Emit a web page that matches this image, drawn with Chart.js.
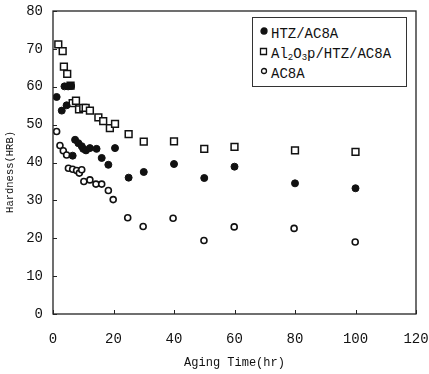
<!DOCTYPE html>
<html>
<head>
<meta charset="utf-8">
<script src="https://cdn.jsdelivr.net/npm/chart.js@4"></script>
<style>
  body { margin: 0; background: #fff; }
  #wrap { position: relative; width: 429px; height: 374px; }
  #legend {
    position: absolute; left: 252px; top: 17px; width: 155px; height: 70px;
    border: 1px solid #333; background: #fff; box-sizing: border-box;
    font-family: "Liberation Mono", monospace; font-size: 14px; color: #111;
    padding-top: 6px;
  }
  #legend div { height: 20px; line-height: 20px; position: relative; padding-left: 18px; }
  #legend sub { font-size: 9px; vertical-align: -2px; line-height: 0; }
  #legend canvas { position: absolute; left: 5px; top: 2px; }
</style>
</head>
<body>
<div id="wrap">
  <canvas id="chart" width="429" height="374"></canvas>
  <div id="legend"></div>
</div>
<script>
// Aging time (hr) and hardness (HRB) for each material
const timeHTZ = [1.2, 2.9, 3.8, 5, 6, 4.5, 6.5, 7.3, 8.4, 9.5, 10, 10.9, 12.2, 14.4, 16.1, 18.3, 20.5, 25, 30, 40, 50, 60, 80, 100];
const hardHTZ = [57.3, 53.7, 60.1, 60.1, 60.2, 55.1, 41.8, 46, 45.1, 44.3, 43.6, 43.2, 43.8, 43.6, 41.2, 39.4, 43.8, 36, 37.5, 39.6, 35.9, 38.9, 34.5, 33.2];

const timeAl = [1.75, 3.2, 3.6, 4.7, 5.8, 6.5, 7.6, 8.6, 10, 10.8, 12.2, 15, 16.6, 18.8, 20.5, 25, 30, 40, 50, 60, 80, 100];
const hardAl = [71.2, 69.4, 65.3, 63.4, 60.3, 55.7, 56.3, 54, 54.4, 54.4, 53.7, 51.9, 50.9, 49.1, 50.2, 47.5, 45.5, 45.6, 43.6, 44.1, 43.2, 42.8];

const timeAC = [1.2, 2.3, 3.4, 4.5, 5.1, 6.5, 7.8, 8.7, 9.5, 10.2, 12.2, 14.2, 16.1, 18.3, 19.9, 24.7, 29.8, 39.7, 49.9, 59.9, 79.7, 99.9];
const hardAC = [48.2, 44.5, 43.1, 42, 38.5, 38.2, 37.9, 37.2, 38.1, 35, 35.4, 34.3, 34.3, 32.6, 30.2, 25.4, 23.1, 25.3, 19.4, 23, 22.6, 19];

const seriesNames = ["HTZ/AC8A", "Al<sub>2</sub>O<sub>3</sub>p/HTZ/AC8A", "AC8A"];
const xTicks = [0, 20, 40, 60, 80, 100, 120];
const yTicks = [0, 10, 20, 30, 40, 50, 60, 70, 80];

const toPoints = (xs, ys) => xs.map((x, i) => ({ x: x, y: ys[i] }));

const styles = [
  { pointStyle: "circle", pointRadius: 3.5, backgroundColor: "#111", borderColor: "#111", borderWidth: 1 },
  { pointStyle: "rect", pointRadius: 4.8, backgroundColor: "#fff", borderColor: "#111", borderWidth: 1.5 },
  { pointStyle: "circle", pointRadius: 3, backgroundColor: "#fff", borderColor: "#111", borderWidth: 1.6 },
];

// frame and inward tick marks
const framePlugin = {
  id: "frame",
  afterDraw(chart) {
    const { ctx, chartArea: a, scales } = chart;
    ctx.save();
    ctx.strokeStyle = "#222";
    ctx.lineWidth = 1.3;
    ctx.strokeRect(a.left, a.top, a.right - a.left, a.bottom - a.top);
    ctx.lineWidth = 1;
    ctx.beginPath();
    xTicks.forEach(v => {
      const px = Math.round(scales.x.getPixelForValue(v)) + 0.5;
      ctx.moveTo(px, a.bottom);
      ctx.lineTo(px, a.bottom - 4);
    });
    yTicks.forEach(v => {
      const py = Math.round(scales.y.getPixelForValue(v)) + 0.5;
      ctx.moveTo(a.left, py);
      ctx.lineTo(a.left + 4, py);
    });
    ctx.stroke();
    ctx.restore();
  }
};

const monoTick = { family: "'Liberation Mono', monospace", size: 14 };

new Chart(document.getElementById("chart").getContext("2d"), {
  type: "scatter",
  data: {
    datasets: [
      Object.assign({ label: "HTZ/AC8A", data: toPoints(timeHTZ, hardHTZ) }, styles[0]),
      Object.assign({ label: "Al2O3p/HTZ/AC8A", data: toPoints(timeAl, hardAl) }, styles[1]),
      Object.assign({ label: "AC8A", data: toPoints(timeAC, hardAC) }, styles[2]),
    ],
  },
  options: {
    responsive: false,
    animation: false,
    layout: { padding: { top: 11, right: 13, left: 0, bottom: 0 } },
    plugins: { legend: { display: false }, tooltip: { enabled: false } },
    scales: {
      x: {
        type: "linear", min: 0, max: 120,
        afterBuildTicks: s => { s.ticks = xTicks.map(v => ({ value: v })); },
        afterFit: s => { s.height = 60; s.paddingLeft = 0; s.paddingRight = 0; },
        grid: { display: false, drawTicks: false },
        border: { display: false },
        ticks: { color: "#111", font: monoTick, padding: 17, maxRotation: 0 },
        title: { display: true, text: "Aging Time(hr)", color: "#111",
                 font: { family: "'Liberation Mono', monospace", size: 12 }, padding: { top: 3 } },
      },
      y: {
        type: "linear", min: 0, max: 80,
        afterBuildTicks: s => { s.ticks = yTicks.map(v => ({ value: v })); },
        afterFit: s => { s.width = 53; s.paddingTop = 0; s.paddingBottom = 0; },
        grid: { display: false, drawTicks: false },
        border: { display: false },
        ticks: { color: "#111", font: monoTick, padding: 10 },
        // trailing spaces push the label a little below the axis centre, as in the original
        title: { display: true, text: "Hardness(HRB)   ", color: "#111",
                 font: { family: "'Liberation Mono', monospace", size: 10.5 }, padding: { bottom: 3 } },
      },
    },
  },
  plugins: [framePlugin],
});

// legend box in the upper right
const legend = document.getElementById("legend");
seriesNames.forEach((name, i) => {
  const row = document.createElement("div");
  row.innerHTML = `<canvas width="12" height="12"></canvas>${name}`;
  legend.appendChild(row);
  const c = row.querySelector("canvas").getContext("2d");
  c.fillStyle = styles[i].backgroundColor;
  c.strokeStyle = "#111";
  c.lineWidth = 1.3;
  c.beginPath();
  if (styles[i].pointStyle === "rect") {
    c.rect(2.5, 2.5, 6, 6);
  } else {
    c.arc(6, 5, i === 0 ? 3 : 2.5, 0, Math.PI * 2);
  }
  c.fill();
  c.stroke();
});
</script>
</body>
</html>
